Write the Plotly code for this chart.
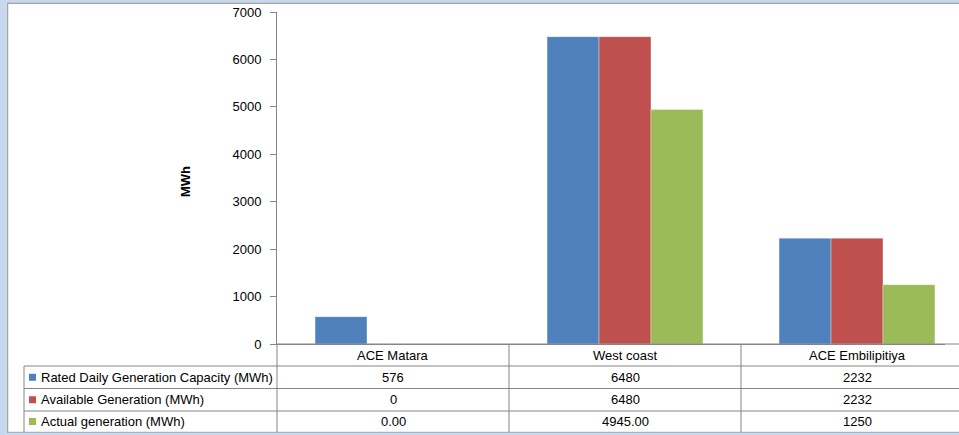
import plotly.graph_objects as go

# ---------------- data ----------------
categories = ["ACE Matara", "West coast", "ACE Embilipitiya"]
series_names = [
    "Rated Daily Generation Capacity (MWh)",
    "Available Generation (MWh)",
    "Actual generation (MWh)",
]
rated = [576, 6480, 2232]
available = [0, 6480, 2232]
actual = [0.00, 4945.00, 1250]
rated_labels = ["576", "6480", "2232"]
available_labels = ["0", "6480", "2232"]
actual_labels = ["0.00", "4945.00", "1250"]
y_ticks = [0, 1000, 2000, 3000, 4000, 5000, 6000, 7000]
y_title = "MWh"

series_values = [rated, available, actual]
series_labels = [rated_labels, available_labels, actual_labels]
colors = ["#4F81BD", "#C0504D", "#9BBB59"]

# ---------------- geometry ----------------
W, H = 959, 435
L, T, B = 277, 12, 91
PLOT_W = W - L
PLOT_H = H - T - B
CAT_W = 232.0
x_range = [-0.5, -0.5 + PLOT_W / CAT_W]

def px(xp):
    return (xp - L) / PLOT_W

def py(yp):
    return (H - B - yp) / PLOT_H

FONT = "Liberation Sans"
GRAY = "#868686"
FRAME = "#A5A5A5"
BLUE_BG = "#C6D9F1"

fig = go.Figure()
xs = list(range(len(categories)))
for name, vals, col in zip(series_names, series_values, colors):
    fig.add_trace(go.Bar(
        x=xs, y=vals, name=name,
        marker=dict(color=col, line=dict(width=1, color="rgba(255,255,255,0.35)")),
        showlegend=False, hoverinfo="skip",
    ))

shapes = []
# light-blue surroundings
for (x0, x1, y0, y1) in [(0, 6.5, 0, 435), (0, 959, 0, 2.5), (0, 959, 432.5, 435)]:
    shapes.append(dict(type="rect", xref="paper", yref="paper",
                       x0=px(x0), x1=px(x1), y0=py(y0), y1=py(y1),
                       fillcolor=BLUE_BG, line=dict(width=0), layer="below"))
# keep the right edge clean (chart area continues past the window)
shapes.append(dict(type="rect", xref="paper", yref="paper",
                   x0=px(945), x1=px(965), y0=py(4), y1=py(432),
                   fillcolor="white", line=dict(width=0)))
# frame lines (left, top, bottom)
shapes.append(dict(type="line", xref="paper", yref="paper",
                   x0=px(7.5), x1=px(7.5), y0=py(3), y1=py(432.5),
                   line=dict(color=FRAME, width=1.5)))
shapes.append(dict(type="line", xref="paper", yref="paper",
                   x0=px(7), x1=px(965), y0=py(3.2), y1=py(3.2),
                   line=dict(color=FRAME, width=1.5)))
shapes.append(dict(type="line", xref="paper", yref="paper",
                   x0=px(7), x1=px(965), y0=py(432.3), y1=py(432.3),
                   line=dict(color=FRAME, width=1)))

row_y = [344, 366, 388.5, 411, 432]
# x axis line continuation and horizontal table lines
shapes.append(dict(type="line", xref="paper", yref="paper",
                   x0=0, x1=px(965), y0=0, y1=0,
                   line=dict(color=GRAY, width=1)))
for yy in row_y[1:4]:
    shapes.append(dict(type="line", xref="paper", yref="paper",
                       x0=px(24), x1=px(965), y0=py(yy), y1=py(yy),
                       line=dict(color=GRAY, width=1)))
# vertical table lines
shapes.append(dict(type="line", xref="paper", yref="paper",
                   x0=px(24), x1=px(24), y0=py(366), y1=py(432),
                   line=dict(color=GRAY, width=1)))
shapes.append(dict(type="line", xref="paper", yref="paper",
                   x0=0, x1=0, y0=py(344), y1=py(432),
                   line=dict(color=GRAY, width=1)))
for i in range(len(categories)):
    shapes.append(dict(type="line", xref="x", yref="paper",
                       x0=i + 0.5, x1=i + 0.5, y0=py(344), y1=py(432),
                       line=dict(color=GRAY, width=1)))

annotations = []
tf = dict(family=FONT, size=13, color="black")
for i, c in enumerate(categories):
    annotations.append(dict(xref="x", yref="paper", x=i, y=py(355.5),
                            text=c, showarrow=False, font=tf,
                            xanchor="center", yanchor="middle"))
for r, (name, labels, col) in enumerate(zip(series_names, series_labels, colors)):
    yc = (row_y[r + 1] + row_y[r + 2]) / 2
    shapes.append(dict(type="rect", xref="paper", yref="paper",
                       x0=px(29), x1=px(36), y0=py(yc - 3.5), y1=py(yc + 3.5),
                       fillcolor=col, line=dict(width=0)))
    annotations.append(dict(xref="paper", yref="paper", x=px(39), y=py(yc),
                            text=name, showarrow=False, font=tf,
                            xanchor="left", yanchor="middle"))
    for i, lab in enumerate(labels):
        annotations.append(dict(xref="x", yref="paper", x=i, y=py(yc),
                                text=lab, showarrow=False, font=tf,
                                xanchor="center", yanchor="middle"))

annotations.append(dict(xref="paper", yref="paper", x=px(186), y=py(182),
                        text="<b>" + y_title + "</b>", textangle=-90,
                        showarrow=False, font=dict(family=FONT, size=13, color="black"),
                        xanchor="center", yanchor="middle"))

fig.update_layout(
    width=W, height=H,
    margin=dict(l=L, r=0, t=T, b=B, pad=0),
    paper_bgcolor="white",
    plot_bgcolor="rgba(0,0,0,0)",
    barmode="group", bargap=0.328, bargroupgap=0,
    shapes=shapes, annotations=annotations,
    font=dict(family=FONT, size=13, color="black"),
    xaxis=dict(range=x_range, showticklabels=False, ticks="", showgrid=False,
               zeroline=False, showline=True, linecolor=GRAY, linewidth=1,
               fixedrange=True),
    yaxis=dict(range=[0, 7000], tickvals=y_ticks, ticks="outside", ticklen=6,
               tickcolor=GRAY, showline=True, linecolor=GRAY, linewidth=1,
               showgrid=False, zeroline=False, tickfont=dict(family=FONT, size=13),
               ticklabelstandoff=6, fixedrange=True),
)

fig.write_html(
    "out.html",
    config={"displayModeBar": False},
    post_script=(
        "document.documentElement.style.overflow='hidden';"
        "document.body.style.overflow='hidden';"
        "document.body.style.margin='0';"
    ),
)
